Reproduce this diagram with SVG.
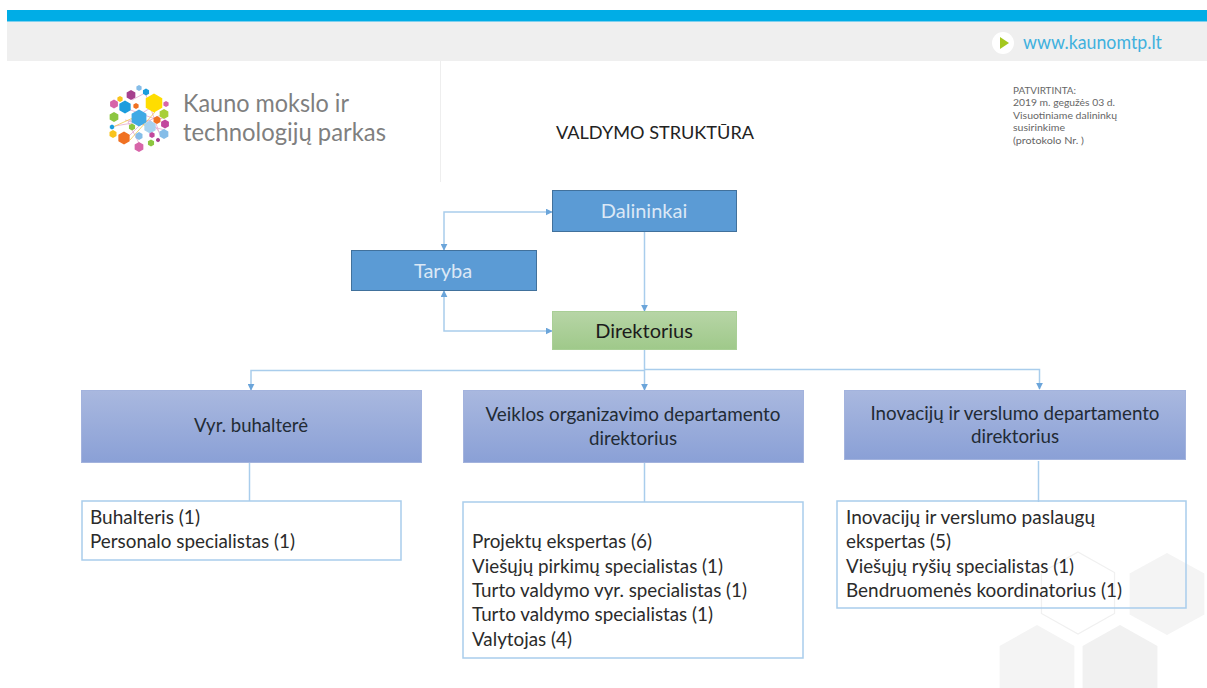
<svg xmlns="http://www.w3.org/2000/svg" width="1207" height="688" viewBox="0 0 1207 688">
<style>
text{font-family:Lato,"Open Sans","Liberation Sans",sans-serif}
.n{font-size:18.500px;text-anchor:middle;fill:#222b35}
.w{font-size:20px;text-anchor:middle;fill:#dbe8f6}
.l{font-size:18.500px;fill:#2b2b2b}
.c{fill:none;stroke:#a9cdec;stroke-width:1.5}
.b{fill:#5b9bd5;stroke:#41719c;stroke-width:1}
.d{fill:url(#pur);stroke:#a3b3dd;stroke-width:1}
.o{fill:none;stroke:#a9cdec;stroke-width:1.5}
.s{font-size:9.500px;fill:#666}
.lg{font-size:25px;fill:#7f7f7f}
.k{stroke-width:.8;fill:none}
</style>
<defs>
<linearGradient id="pur" x1="0" y1="0" x2="0" y2="1"><stop offset="0" stop-color="#a9b8df"/><stop offset="1" stop-color="#8aa0d6"/></linearGradient>
<linearGradient id="grn" x1="0" y1="0" x2="0" y2="1"><stop offset="0" stop-color="#b7d5a6"/><stop offset="1" stop-color="#9fc98a"/></linearGradient>
<marker id="a" viewBox="0 0 10 10" refX="9" refY="5" markerWidth="7" markerHeight="7" orient="auto-start-reverse" markerUnits="userSpaceOnUse"><path d="M0 0L10 5L0 10z" fill="#6ba5da"/></marker>
<polygon id="h" points="0,-1 .87,-.5 .87,.5 0,1 -.87,.5 -.87,-.5"/>
<filter id="soft" x="-5%" y="-5%" width="110%" height="110%"><feGaussianBlur stdDeviation=".45"/></filter>
</defs>
<rect width="1207" height="688" fill="#fff"/>
<g id="background">
<rect x="7" y="10" width="1200" height="11" fill="#00ade6"/>
<rect x="7" y="21" width="1200" height="1" fill="#7fd0ee"/>
<rect x="7" y="22" width="1200" height="39" fill="#efefef"/>
<rect x="440" y="61" width="1" height="121" fill="#eeeeee"/>
<use href="#h" transform="translate(1167 594) scale(43 41)" fill="#f4f4f4"/>
<use href="#h" transform="translate(1078 593) scale(42 41)" fill="#fff" stroke="#f0f0f0" stroke-width=".03"/>
<use href="#h" transform="translate(1037 667) scale(43 42)" fill="#f4f4f4"/>
<use href="#h" transform="translate(1120 667) scale(43 42)" fill="#f1f1f1"/>
<circle cx="1003" cy="43" r="11" fill="#fff"/>
<polygon points="1000,37 1009,43 1000,49" fill="#a4c81e"/>
<text x="1023" y="49" font-size="19" fill="#3fb1de" textLength="139" lengthAdjust="spacingAndGlyphs">www.kaunomtp.lt</text>
</g>
<g id="logo">
<g filter="url(#soft)">
<g class="k">
<path d="M125 108L158 120L165 117M115 126L150 120L160 133M132 100L145 93M155 105L128 122L140 145M122 143L140 125L165 113M146 95L160 135M125 120L165 130" stroke="#e3a9cf"/>
<path d="M113 127L135 117L150 130M130 140L155 112" stroke="#f2c94c"/>
</g>
<use href="#h" transform="translate(154 103) scale(9.500)" fill="#ffdd00"/>
<use href="#h" transform="translate(125 107) scale(6.500)" fill="#1a9ddd"/>
<use href="#h" transform="translate(139 118) scale(8.500)" fill="#3fa9e5"/>
<use href="#h" transform="translate(150 127) scale(6.500)" fill="#a7d2f0"/>
<use href="#h" transform="translate(124 138) scale(6.500)" fill="#f07122"/>
<use href="#h" transform="translate(131 95) scale(5)" fill="#a63f8e"/>
<use href="#h" transform="translate(114 104) scale(4.500)" fill="#d765a9"/>
<use href="#h" transform="translate(114 117) scale(5)" fill="#8cc63f"/>
<use href="#h" transform="translate(113 134) scale(4)" fill="#f9c31a"/>
<use href="#h" transform="translate(120 99) scale(3)" fill="#f9c31a"/>
<use href="#h" transform="translate(139 88) scale(3)" fill="#85bde8"/>
<use href="#h" transform="translate(146 92) scale(3.500)" fill="#1a9ddd"/>
<use href="#h" transform="translate(136 106) scale(3)" fill="#f07122"/>
<use href="#h" transform="translate(166 104) scale(3)" fill="#d765a9"/>
<use href="#h" transform="translate(164 114) scale(5)" fill="#a8cf38"/>
<use href="#h" transform="translate(157 120) scale(4)" fill="#f07122"/>
<use href="#h" transform="translate(165 124) scale(4.500)" fill="#c2479d"/>
<use href="#h" transform="translate(164 134) scale(5)" fill="#85bde8"/>
<use href="#h" transform="translate(132 127) scale(3.500)" fill="#8cc63f"/>
<use href="#h" transform="translate(112 127) scale(2.500)" fill="#1a9ddd"/>
<use href="#h" transform="translate(139 136) scale(4)" fill="#85bde8"/>
<use href="#h" transform="translate(152 135) scale(3)" fill="#c2479d"/>
<use href="#h" transform="translate(158 140) scale(2.200)" fill="#a63f8e"/>
<use href="#h" transform="translate(151 143) scale(3.500)" fill="#8cc63f"/>
<use href="#h" transform="translate(139 147) scale(5)" fill="#d765a9"/>
</g>
<text class="lg" x="183" y="112" textLength="166" lengthAdjust="spacingAndGlyphs">Kauno mokslo ir</text>
<text class="lg" x="183" y="141" textLength="203" lengthAdjust="spacingAndGlyphs">technologijų parkas</text>
</g>
<g id="title"><text x="556" y="139" font-size="18" fill="#222" textLength="198" lengthAdjust="spacingAndGlyphs">VALDYMO STRUKTŪRA</text></g>
<g id="note">
<text class="s" x="1013" y="94" textLength="63" lengthAdjust="spacingAndGlyphs">PATVIRTINTA:</text>
<text class="s" x="1013" y="106" textLength="102" lengthAdjust="spacingAndGlyphs">2019 m. gegužės 03 d.</text>
<text class="s" x="1013" y="119" textLength="104" lengthAdjust="spacingAndGlyphs">Visuotiniame dalininkų</text>
<text class="s" x="1013" y="131" textLength="52" lengthAdjust="spacingAndGlyphs">susirinkime</text>
<text class="s" x="1013" y="144" textLength="71" lengthAdjust="spacingAndGlyphs">(protokolo Nr. )</text>
</g>
<g id="connectors">
<path class="c" d="M444 250V212H552" marker-start="url(#a)" marker-end="url(#a)"/>
<path class="c" d="M444 291V331H552" marker-start="url(#a)" marker-end="url(#a)"/>
<path class="c" d="M644.500 232V311" marker-end="url(#a)"/>
<path class="c" d="M644.500 350V390" marker-end="url(#a)"/>
<path class="c" d="M644 370.500H251V390" marker-end="url(#a)"/>
<path class="c" d="M644 369.500H1039.500V389" marker-end="url(#a)"/>
<path class="c" d="M249.500 463V501"/>
<path class="c" d="M644.500 463V502"/>
<path class="c" d="M1038.500 461V502"/>
</g>
<g id="dalininkai"><rect class="b" x="552.500" y="190.500" width="184" height="41"/><text class="w" x="644" y="218">Dalininkai</text></g>
<g id="taryba"><rect class="b" x="351.500" y="250.500" width="185" height="40"/><text class="w" x="443" y="278">Taryba</text></g>
<g id="direktorius"><rect x="552.500" y="311.500" width="184" height="38" fill="url(#grn)" stroke="#a9cf96"/><text x="644" y="338" font-size="20" text-anchor="middle" fill="#1c1c1c">Direktorius</text></g>
<g id="buhaltere"><rect class="d" x="81.500" y="390.500" width="340" height="72"/><text class="n" x="251" y="432" textLength="114" lengthAdjust="spacingAndGlyphs">Vyr. buhalterė</text></g>
<g id="veiklos"><rect class="d" x="463.500" y="390.500" width="340" height="72"/><text class="n" x="633" y="421" textLength="295" lengthAdjust="spacingAndGlyphs">Veiklos organizavimo departamento</text><text class="n" x="633" y="445" textLength="88" lengthAdjust="spacingAndGlyphs">direktorius</text></g>
<g id="inovaciju"><rect class="d" x="844.500" y="390.500" width="341" height="69"/><text class="n" x="1015" y="420" textLength="289" lengthAdjust="spacingAndGlyphs">Inovacijų ir verslumo departamento</text><text class="n" x="1015" y="443" textLength="88" lengthAdjust="spacingAndGlyphs">direktorius</text></g>
<g id="box1"><rect class="o" x="82" y="501" width="319" height="59"/><text class="l" x="90" y="524" textLength="110" lengthAdjust="spacingAndGlyphs">Buhalteris (1)</text><text class="l" x="90" y="548" textLength="205" lengthAdjust="spacingAndGlyphs">Personalo specialistas (1)</text></g>
<g id="box2"><rect class="o" x="463" y="502" width="340" height="156"/>
<text class="l" x="472" y="548" textLength="180" lengthAdjust="spacingAndGlyphs">Projektų ekspertas (6)</text>
<text class="l" x="472" y="573" textLength="251" lengthAdjust="spacingAndGlyphs">Viešųjų pirkimų specialistas (1)</text>
<text class="l" x="472" y="597" textLength="275" lengthAdjust="spacingAndGlyphs">Turto valdymo vyr. specialistas (1)</text>
<text class="l" x="472" y="621" textLength="241" lengthAdjust="spacingAndGlyphs">Turto valdymo specialistas (1)</text>
<text class="l" x="472" y="646" textLength="100" lengthAdjust="spacingAndGlyphs">Valytojas (4)</text></g>
<g id="box3"><rect class="o" x="837" y="501" width="349" height="107"/>
<text class="l" x="846" y="524" textLength="249" lengthAdjust="spacingAndGlyphs">Inovacijų ir verslumo paslaugų</text>
<text class="l" x="846" y="548" textLength="105" lengthAdjust="spacingAndGlyphs">ekspertas (5)</text>
<text class="l" x="846" y="573" textLength="228" lengthAdjust="spacingAndGlyphs">Viešųjų ryšių specialistas (1)</text>
<text class="l" x="846" y="597" textLength="276" lengthAdjust="spacingAndGlyphs">Bendruomenės koordinatorius (1)</text></g>
</svg>
